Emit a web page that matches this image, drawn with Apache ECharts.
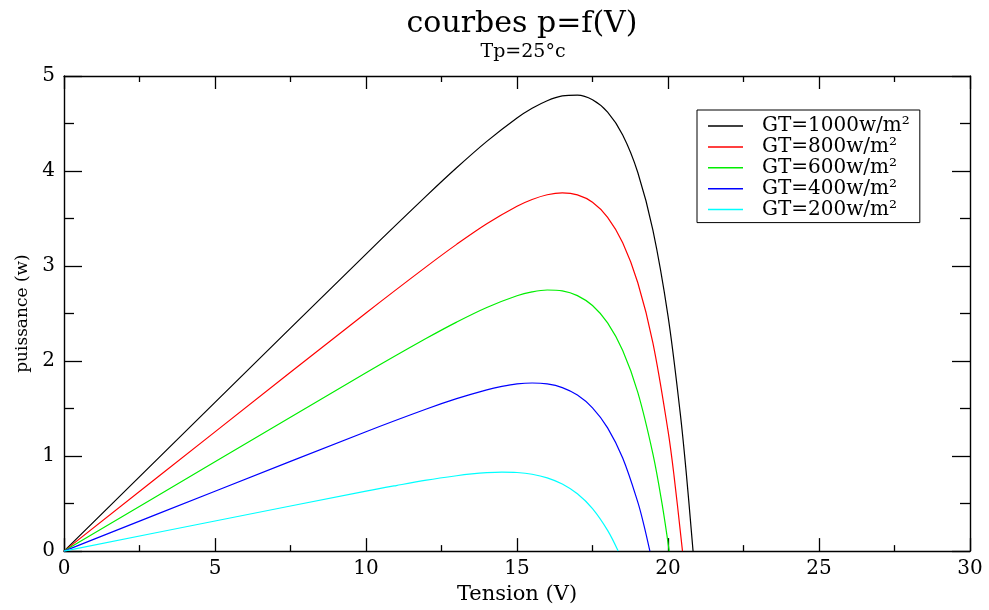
<!DOCTYPE html>
<html>
<head>
<meta charset="utf-8">
<script src="https://cdn.jsdelivr.net/npm/echarts@6/dist/echarts.min.js"></script>
<style>
html,body{margin:0;padding:0;background:#fff;}
#chart{width:989px;height:610px;}
</style>
</head>
<body>
<div id="chart"></div>
<script>
// ---- data ----
const seriesNames = ['GT=1000w/m²','GT=800w/m²','GT=600w/m²','GT=400w/m²','GT=200w/m²'];
const seriesColors = ['#000000','#ff0000','#00ee00','#0000ff','#00ffff'];

const v1000 = [0, 5, 10, 12, 13, 14, 15, 15.5, 16, 16.5, 17, 17.5, 18, 18.5, 19, 19.5, 20, 20.4, 20.6, 20.83];
const p1000 = [0, 1.565, 3.126, 3.738, 4.034, 4.312, 4.558, 4.660, 4.740, 4.790, 4.799, 4.750, 4.620, 4.380, 3.985, 3.378, 2.475, 1.465, 0.839, 0];

const v800 = [0, 5, 10, 12, 13, 14, 15, 15.5, 16, 16.5, 17, 17.5, 18, 18.5, 19, 19.5, 20, 20.2, 20.48];
const p800 = [0, 1.255, 2.506, 2.994, 3.228, 3.445, 3.629, 3.700, 3.750, 3.770, 3.749, 3.671, 3.513, 3.245, 2.824, 2.192, 1.267, 0.792, 0];

const v600 = [0, 5, 10, 12, 13, 14, 15, 15.5, 16, 16.5, 17, 17.5, 18, 18.5, 19, 19.5, 19.8, 20.04];
const p600 = [0, 0.940, 1.876, 2.239, 2.410, 2.564, 2.687, 2.728, 2.748, 2.739, 2.689, 2.584, 2.401, 2.110, 1.670, 1.023, 0.504, 0];

const v400 = [0, 5, 10, 12, 13, 14, 14.5, 15, 15.5, 16, 16.5, 17, 17.5, 18, 18.5, 19, 19.2, 19.4];
const p400 = [0, 0.630, 1.256, 1.495, 1.604, 1.697, 1.733, 1.759, 1.769, 1.759, 1.721, 1.642, 1.508, 1.297, 0.979, 0.515, 0.276, 0];

const v200 = [0, 5, 10, 11, 12, 13, 13.5, 14, 14.5, 15, 15.5, 16, 16.5, 17, 17.5, 18, 18.35];
const p200 = [0, 0.317, 0.631, 0.690, 0.746, 0.793, 0.812, 0.825, 0.831, 0.827, 0.809, 0.771, 0.706, 0.603, 0.447, 0.218, 0];

const xTicks = [0, 5, 10, 15, 20, 25, 30];
const yTicks = [0, 1, 2, 3, 4, 5];

// ---- build ----
const vArr = [v1000, v800, v600, v400, v200];
const pArr = [p1000, p800, p600, p400, p200];
const FONT = '"DejaVu Serif", "Liberation Serif", serif';

const series = seriesNames.map((name, i) => ({
  name: name,
  type: 'line',
  smooth: 0.35,
  symbol: 'none',
  showSymbol: false,
  xAxisIndex: 0,
  yAxisIndex: 0,
  lineStyle: { color: seriesColors[i], width: 1.2 },
  itemStyle: { color: seriesColors[i] },
  data: vArr[i].map((v, k) => [v, pArr[i][k]])
}));

function axisBase(major, minor) {
  return {
    type: 'value',
    axisLine: { show: true, onZero: false, lineStyle: { color: '#000', width: 1.4 } },
    axisTick: { show: true, inside: true, length: major, lineStyle: { color: '#000', width: 1.3 } },
    minorTick: { show: true, splitNumber: 2, length: minor, lineStyle: { color: '#000', width: 1.3 } },
    splitLine: { show: false },
    minorSplitLine: { show: false }
  };
}

const chart = echarts.init(document.getElementById('chart'), null, { renderer: 'canvas' });
chart.setOption({
  animation: false,
  backgroundColor: '#fff',
  title: [
    { text: 'courbes p=f(V)', left: 517, top: 4, textAlign: 'center',
      textStyle: { fontFamily: FONT, fontSize: 30, fontWeight: 'normal', color: '#000' } },
    { text: 'Tp=25°c', left: 518, top: 38, textAlign: 'center',
      textStyle: { fontFamily: FONT, fontSize: 19, fontWeight: 'normal', color: '#000' } }
  ],
  legend: {
    orient: 'vertical',
    left: 697, top: 110,
    data: seriesNames,
    icon: 'rect',
    itemWidth: 35,
    itemHeight: 1.5,
    itemGap: 0.9,
    padding: [6, 10, 3, 11],
    borderColor: '#000',
    borderWidth: 1,
    backgroundColor: '#fff',
    textStyle: { fontFamily: FONT, fontSize: 20, color: '#000', padding: [0, 0, 0, 14] }
  },
  grid: { left: 64, right: 19, top: 76, bottom: 50, containLabel: false },
  xAxis: [
    Object.assign(axisBase(13, 6), {
      min: 0, max: 30, interval: 5, position: 'bottom',
      name: 'Tension (V)', nameLocation: 'middle', nameGap: 32,
      nameTextStyle: { fontFamily: FONT, fontSize: 21, color: '#000' },
      axisLabel: { show: true, margin: 8, fontFamily: FONT, fontSize: 20, color: '#000',
        formatter: v => xTicks.includes(v) ? String(v) : '' }
    }),
    Object.assign(axisBase(13, 6), {
      min: 0, max: 30, interval: 5, position: 'top',
      axisLabel: { show: false }
    })
  ],
  yAxis: [
    Object.assign(axisBase(18, 10), {
      min: 0, max: 5, interval: 1, position: 'left',
      name: 'puissance (w)', nameLocation: 'middle', nameGap: 33,
      nameTextStyle: { fontFamily: FONT, fontSize: 17, color: '#000' },
      axisLabel: { show: true, margin: 9, fontFamily: FONT, fontSize: 20, color: '#000',
        formatter: v => yTicks.includes(v) ? String(v) : '' }
    }),
    Object.assign(axisBase(18, 10), {
      min: 0, max: 5, interval: 1, position: 'right',
      axisLabel: { show: false }
    })
  ],
  series: series
});
</script>
</body>
</html>
